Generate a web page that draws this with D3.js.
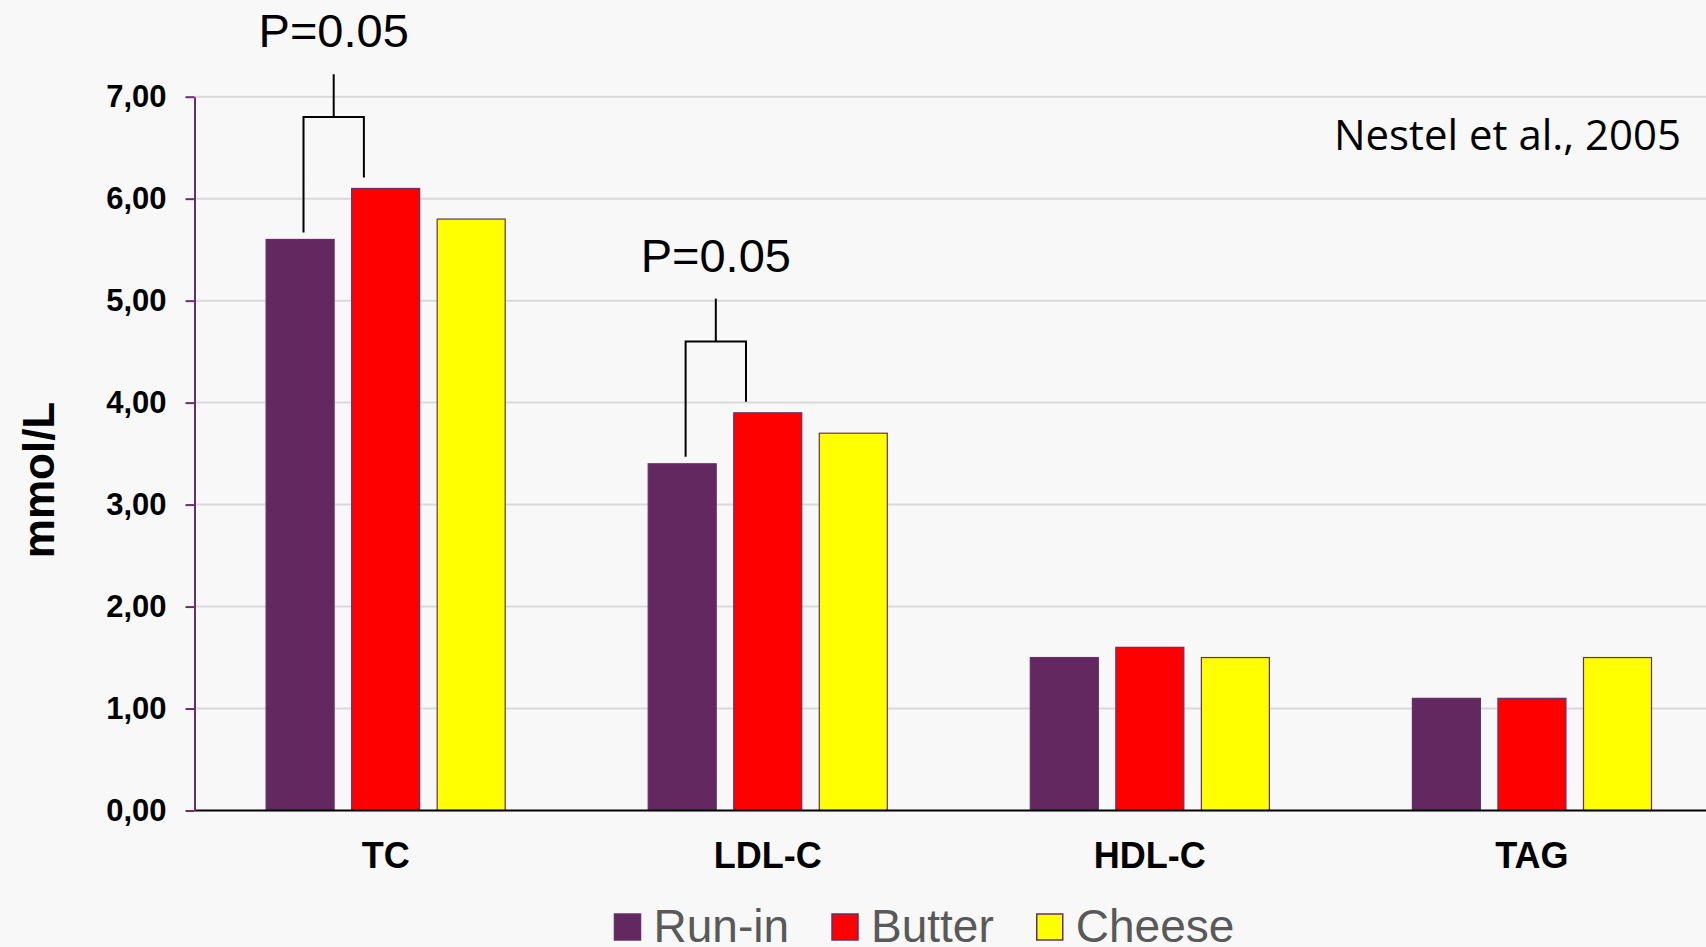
<!DOCTYPE html>
<html>
<head>
<meta charset="utf-8">
<script src="https://cdn.jsdelivr.net/npm/d3@7"></script>
<style>
  html, body { margin: 0; padding: 0; background: #f8f8f8; overflow: hidden; }
  svg { display: block; }
</style>
</head>
<body>
<svg id="chart" width="1706" height="947"></svg>
<script>
// ---- data ----
const categories = ["TC", "LDL-C", "HDL-C", "TAG"];
const series = ["Run-in", "Butter", "Cheese"];
const runIn  = [5.6, 3.4, 1.5, 1.1];
const butter = [6.1, 3.9, 1.6, 1.1];
const cheese = [5.8, 3.7, 1.5, 1.5];
const yTicks = [0, 1, 2, 3, 4, 5, 6, 7];
const sigCategories = ["TC", "LDL-C"];
const sigLabels = ["P=0.05", "P=0.05"];
const yTitle = "mmol/L";
const sourceNote = "Nestel et al., 2005";

const colors = { "Run-in": "#632860", "Butter": "#ff0000", "Cheese": "#ffff00" };
const valuesBySeries = { "Run-in": runIn, "Butter": butter, "Cheese": cheese };

const FONT = "'Liberation Sans', Arial, Helvetica, sans-serif";
const svg = d3.select("#chart");
svg.append("rect").attr("width", 1706).attr("height", 947).attr("fill", "#f8f8f8");

const axisX = 194.5, rightX = 1706;
const y = d3.scaleLinear().domain([0, 7]).range([810.5, 96.7]);
const x0 = d3.scaleBand().domain(categories).range([194.6, 1723]).padding(0);
const x1 = d3.scaleBand().domain(series).range([0, x0.bandwidth()])
  .paddingInner(0.205).paddingOuter(0.836);

// gridlines
svg.append("g").selectAll("line").data(yTicks.filter(d => d > 0)).join("line")
  .attr("x1", axisX).attr("x2", rightX)
  .attr("y1", d => y(d)).attr("y2", d => y(d))
  .attr("stroke", "#d9d9d9").attr("stroke-width", 2);

// bars
const groups = svg.append("g").selectAll("g").data(categories).join("g")
  .attr("transform", d => `translate(${x0(d)},0)`);
groups.selectAll("rect")
  .data((c, i) => series.map(s => ({ s, v: valuesBySeries[s][i] })))
  .join("rect")
  .attr("x", d => x1(d.s))
  .attr("width", x1.bandwidth())
  .attr("y", d => y(d.v))
  .attr("height", d => y(0) - y(d.v))
  .attr("fill", d => colors[d.s])
  .attr("stroke", "#63306a")
  .attr("stroke-width", 1.2);

// baseline
svg.append("line")
  .attr("x1", axisX).attr("x2", rightX)
  .attr("y1", y(0)).attr("y2", y(0))
  .attr("stroke", "#000").attr("stroke-width", 2.2);

// y axis
const yAxis = d3.axisLeft(y).tickValues(yTicks).tickSize(9).tickSizeOuter(0).tickPadding(19)
  .tickFormat(d => d.toFixed(2).replace(".", ","));
const gy = svg.append("g").attr("transform", `translate(${axisX},0)`).call(yAxis);
gy.select(".domain").attr("stroke", "#6a2f6b").attr("stroke-width", 2);
gy.selectAll(".tick line").attr("stroke", "#6a2f6b").attr("stroke-width", 2);
gy.selectAll(".tick text").attr("fill", "#000").style("font-family", FONT)
  .style("font-size", "31px").style("font-weight", "bold");

// x axis labels
const xAxis = d3.axisBottom(x0).tickSize(0).tickPadding(0);
const gx = svg.append("g").attr("transform", `translate(0,${y(0)})`).call(xAxis);
gx.select(".domain").remove();
gx.selectAll(".tick text").attr("y", 57.5).attr("dy", 0).attr("fill", "#000")
  .style("font-family", FONT).style("font-size", "36px").style("font-weight", "bold");

// y title
svg.append("text")
  .attr("transform", "translate(54,480) rotate(-90)")
  .attr("text-anchor", "middle")
  .style("font-family", FONT).style("font-size", "44px").style("font-weight", "bold")
  .attr("fill", "#000")
  .text(yTitle);

// significance brackets
sigCategories.forEach((cat, k) => {
  const i = categories.indexOf(cat);
  const a = runIn[i], b = butter[i];
  const xl = x0(cat) + x1("Run-in") + x1.bandwidth() * 0.55;
  const xr = x0(cat) + x1("Butter") + x1.bandwidth() * 0.18;
  const xm = (xl + xr) / 2;
  const yBar = y(b + 0.7);
  const g = svg.append("g").attr("stroke", "#000").attr("stroke-width", 2).attr("fill", "none");
  g.append("path").attr("d",
    `M${xl},${y(a) - 7} L${xl},${yBar} L${xr},${yBar} L${xr},${y(b) - 11}`);
  g.append("line").attr("x1", xm).attr("x2", xm).attr("y1", yBar).attr("y2", y(b + 1.12));
  svg.append("text")
    .attr("x", xm).attr("y", y(b + 1.385))
    .attr("text-anchor", "middle")
    .style("font-family", FONT).style("font-size", "47px")
    .attr("fill", "#000")
    .text(sigLabels[k]);
});

// source note
svg.append("text")
  .attr("x", 1681).attr("y", 150)
  .attr("text-anchor", "end")
  .attr("textLength", 347).attr("lengthAdjust", "spacingAndGlyphs")
  .style("font-family", "'Open Sans', 'Noto Sans', sans-serif").style("font-size", "42px")
  .attr("fill", "#000")
  .text(sourceNote);

// legend
const legend = svg.append("g");
let lx = 614.5;
series.forEach(s => {
  legend.append("rect")
    .attr("x", lx).attr("y", 914).attr("width", 26).attr("height", 26)
    .attr("fill", colors[s]).attr("stroke", "#63306a").attr("stroke-width", 1.5);
  const t = legend.append("text")
    .attr("x", lx + 39).attr("y", 942)
    .style("font-family", FONT).style("font-size", "46px")
    .attr("fill", "#595959")
    .text(s);
  lx += 39 + t.node().getComputedTextLength() + 43;
});
</script>
</body>
</html>
